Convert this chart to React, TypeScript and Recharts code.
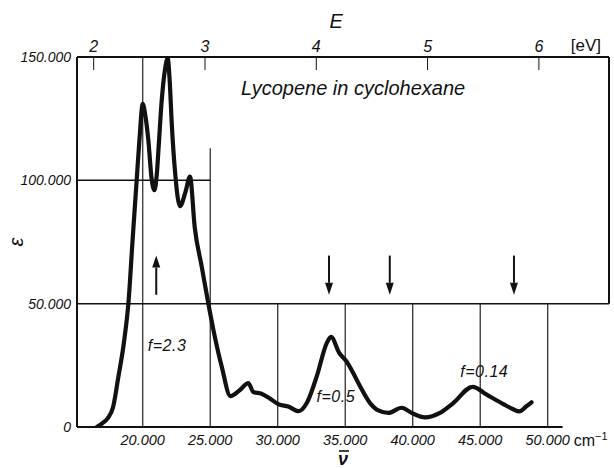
import { LineChart, Line, XAxis, YAxis, ReferenceLine, ReferenceDot, Label } from 'recharts';

// absorption spectrum
const nu = [16600, 17000, 17400, 17800, 18200, 18600, 18950, 19250, 19550, 19750, 20000, 20200, 20420, 20650, 20860, 21050, 21160, 21400, 21650, 21850, 22000, 22150, 22400, 22760, 23150, 23500, 23850, 24370, 24860, 25230, 25850, 26500, 27200, 27820, 28190, 28800, 29430, 30040, 30780, 31550, 32150, 32890, 33630, 33950, 34560, 35110, 35480, 36100, 36840, 37450, 38190, 39180, 39920, 40910, 42020, 43000, 44440, 45480, 46710, 47400, 47900, 48400, 48800];
const eps = [0, 1500, 3500, 8000, 20500, 34000, 51000, 76000, 100000, 116000, 131000, 126000, 116000, 101000, 96000, 103000, 112000, 132000, 145000, 149500, 140000, 123000, 103000, 89500, 95000, 101500, 81000, 65000, 50000, 39500, 24500, 12500, 15000, 17800, 14200, 13500, 11500, 9300, 8300, 6400, 9700, 20500, 34000, 36500, 30000, 26500, 23000, 16500, 9700, 6700, 5700, 7800, 5700, 3900, 5700, 9700, 16300, 13100, 9300, 7300, 6300, 8300, 10000];

const nuTicks = [20000, 25000, 30000, 35000, 40000, 45000, 50000];
const nuTickLabels = ['20.000', '25.000', '30.000', '35.000', '40.000', '45.000', '50.000'];
const epsTicks = [0, 50000, 100000, 150000];
const epsTickLabels = ['0', '50.000', '100.000', '150.000'];
const evTicks = [2, 3, 4, 5, 6];

const upArrows = [21000];
const downArrows = [33800, 38300, 47500];
const arrowLow = 53600;
const arrowHigh = 69500;

const fNotes = ['f=2.3', 'f=0.5', 'f=0.14'];
const fNu = [21800, 34300, 45300];
const fEps = [33000, 12300, 22400];

const data = nu.map((v, i) => ({ nu: v, eps: eps[i] }));

const NU_MIN = 15130;
const NU_MAX = 54540;
const FONT = '"Liberation Sans", Arial, sans-serif';
const INK = '#111';

const BottomTick = (p: any) => {
  const i = nuTicks.indexOf(p.payload.value);
  return (
    <g>
      <text x={p.x} y={p.y} dy="0.71em" textAnchor="middle" fontFamily={FONT} fontStyle="italic" fontSize={14.5} fill={INK}>
        {nuTickLabels[i]}
      </text>
      {i === nuTicks.length - 1 && (
        <text x={p.x + 26} y={p.y} dy="0.71em" textAnchor="start" fontFamily={FONT} fontSize={16} fill={INK}>
          cm<tspan dy={-6} fontSize={11}>−1</tspan>
        </text>
      )}
    </g>
  );
};

const LeftTick = (p: any) => {
  const i = epsTicks.indexOf(p.payload.value);
  return (
    <text x={p.x} y={p.y} dy="0.35em" textAnchor="end" fontFamily={FONT} fontStyle="italic" fontSize={14} fill={INK}>
      {epsTickLabels[i]}
    </text>
  );
};

const TopTick = (p: any) => {
  const v = p.payload.value;
  return (
    <g>
      <line x1={p.x} x2={p.x} y1={p.y + 5} y2={p.y + 18} stroke={INK} strokeWidth={1} />
      <text x={p.x} y={p.y} textAnchor="middle" fontFamily={FONT} fontStyle="italic" fontSize={16} fill={INK}>
        {v}
      </text>
      {v === evTicks[evTicks.length - 1] && (
        <text x={p.x + 47} y={p.y - 1} textAnchor="middle" fontFamily={FONT} fontSize={17} fill={INK}>
          [eV]
        </text>
      )}
    </g>
  );
};

const Arrow = (p: any) => {
  const { x1, y1, x2, y2 } = p;
  const dir = y2 > y1 ? 1 : -1;
  const head = 12;
  return (
    <g>
      <line x1={x1} y1={y1} x2={x2} y2={y2 - dir * head} stroke={INK} strokeWidth={2} />
      <polygon points={`${x2 - 4},${y2 - dir * head} ${x2 + 4},${y2 - dir * head} ${x2},${y2}`} fill={INK} />
    </g>
  );
};

const note = (text: string, size: number, spacing = 0) => (p: any) => (
  <text x={p.cx} y={p.cy} dy="0.35em" textAnchor="middle" fontFamily={FONT} fontStyle="italic" fontSize={size} letterSpacing={spacing} fill={INK}>
    {text}
  </text>
);

const grid = { stroke: '#222', strokeWidth: 1.2 };

export default function App() {
  return (
    <div style={{ position: 'absolute', left: 0, top: 0, width: 614, height: 468, background: '#fff' }}>
      <LineChart width={614} height={468} data={data} margin={{ top: 0, right: 5, bottom: 0, left: 0 }}>
        <XAxis
          dataKey="nu"
          type="number"
          domain={[NU_MIN, NU_MAX]}
          allowDataOverflow
          ticks={nuTicks}
          height={41}
          axisLine={false}
          tickLine={false}
          tick={BottomTick}
        >
          <Label
            content={(p: any) => {
              const cx = p.viewBox.x + p.viewBox.width / 2;
              const by = p.viewBox.y + 38;
              return (
                <g>
                  <text x={cx} y={by} textAnchor="middle" fontFamily={FONT} fontStyle="italic" fontWeight="bold" fontSize={18} fill={INK}>
                    ν
                  </text>
                  <line x1={cx - 4} x2={cx + 6} y1={by - 14} y2={by - 14} stroke={INK} strokeWidth={1.6} />
                </g>
              );
            }}
          />
        </XAxis>
        {/* energy scale on top, no series bound to it */}
        <XAxis
          xAxisId="ev"
          dataKey="nu"
          orientation="top"
          type="number"
          domain={[1.85, 6.63]}
          allowDataOverflow
          ticks={evTicks}
          height={57}
          tickLine={false}
          tickSize={0}
          tickMargin={5}
          axisLine={{ stroke: INK, strokeWidth: 2 }}
          tick={TopTick}
        >
          <Label
            content={(p: any) => (
              <text x={p.viewBox.x + p.viewBox.width * 0.487} y={28} textAnchor="middle" fontFamily={FONT} fontStyle="italic" fontSize={20} fill={INK}>
                E
              </text>
            )}
          />
        </XAxis>
        <YAxis
          type="number"
          domain={[0, 150000]}
          allowDataOverflow
          ticks={epsTicks}
          width={77}
          tickLine={false}
          tickSize={4}
          tickMargin={2}
          axisLine={{ stroke: INK, strokeWidth: 2 }}
          tick={LeftTick}
        >
          <Label
            content={(p: any) => {
              const cx = p.viewBox.x + 16;
              const cy = p.viewBox.y + p.viewBox.height / 2;
              return (
                <text x={cx} y={cy} transform={`rotate(-90 ${cx} ${cy})`} textAnchor="middle" dy="0.35em" fontFamily={FONT} fontStyle="italic" fontSize={20} fill={INK}>
                  ε
                </text>
              );
            }}
          />
        </YAxis>

        {/* staircase grid */}
        <ReferenceLine x={20000} {...grid} />
        <ReferenceLine segment={[{ x: 25000, y: 0 }, { x: 25000, y: 113000 }]} {...grid} />
        {nuTicks.slice(2).map((t) => (
          <ReferenceLine key={t} segment={[{ x: t, y: 0 }, { x: t, y: 50000 }]} {...grid} />
        ))}
        <ReferenceLine segment={[{ x: NU_MIN, y: 100000 }, { x: 25000, y: 100000 }]} stroke={INK} strokeWidth={1.5} />
        <ReferenceLine y={50000} stroke={INK} strokeWidth={1.5} />
        <ReferenceLine segment={[{ x: NU_MAX, y: 50000 }, { x: NU_MAX, y: 150000 }]} stroke={INK} strokeWidth={2} />
        <ReferenceLine segment={[{ x: NU_MIN, y: 0 }, { x: 51100, y: 0 }]} stroke={INK} strokeWidth={2} />

        {upArrows.map((a) => (
          <ReferenceLine key={'u' + a} segment={[{ x: a, y: arrowLow }, { x: a, y: arrowHigh }]} shape={Arrow} />
        ))}
        {downArrows.map((a) => (
          <ReferenceLine key={'d' + a} segment={[{ x: a, y: arrowHigh }, { x: a, y: arrowLow }]} shape={Arrow} />
        ))}

        <ReferenceDot x={35580} y={137500} r={0} shape={note('Lycopene in cyclohexane', 20)} />
        {fNotes.map((t, i) => (
          <ReferenceDot key={t} x={fNu[i]} y={fEps[i]} r={0} shape={note(t, 16, 0.5)} />
        ))}

        <Line
          type="monotone"
          dataKey="eps"
          stroke={INK}
          strokeWidth={4.2}
          strokeLinejoin="round"
          strokeLinecap="round"
          dot={false}
          isAnimationActive={false}
        />
      </LineChart>
    </div>
  );
}
